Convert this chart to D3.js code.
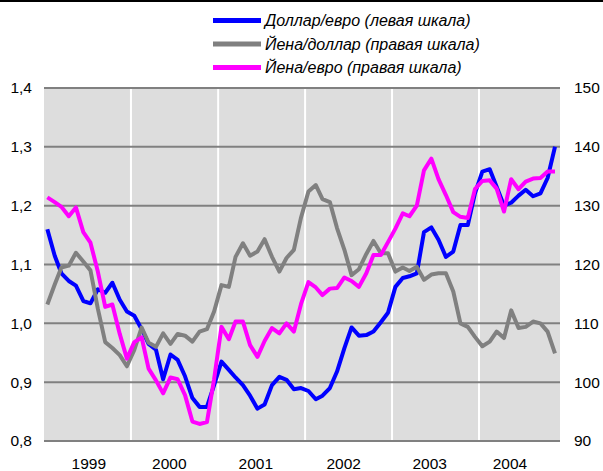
<!DOCTYPE html>
<html>
<head>
<meta charset="utf-8">
<script src="https://cdn.jsdelivr.net/npm/d3@7"></script>
<style>
  body { margin: 0; background: #fff; }
  text { font-family: "Liberation Sans", Arial, sans-serif; fill: #000; }
</style>
</head>
<body>
<svg width="603" height="471"></svg>
<script>
// monthly data, Jan 1999 .. Nov 2004
const startMonth = "1999-01";
const nMonths = 71;

// Доллар/евро, left scale
const usdEur = [1.160, 1.115, 1.085, 1.072, 1.064, 1.038, 1.034, 1.058, 1.052, 1.069, 1.040, 1.020,
  1.013, 0.990, 0.965, 0.955, 0.905, 0.947, 0.938, 0.910, 0.873, 0.858, 0.858, 0.895,
  0.935, 0.921, 0.908, 0.895, 0.877, 0.855, 0.862, 0.895, 0.909, 0.904, 0.888, 0.890,
  0.885, 0.871, 0.877, 0.890, 0.918, 0.958, 0.993, 0.979, 0.980, 0.986, 1.002, 1.018,
  1.062, 1.077, 1.080, 1.085, 1.155, 1.163, 1.142, 1.113, 1.122, 1.167, 1.167, 1.221,
  1.258, 1.262, 1.232, 1.200, 1.205, 1.217, 1.227, 1.216, 1.221, 1.247, 1.300];

// Йена/доллар, right scale
const jpyUsd = [113.2, 116.6, 119.5, 119.8, 122.0, 120.5, 119.0, 112.5, 106.8, 105.8, 104.6, 102.7,
  105.5, 109.3, 106.7, 106.0, 108.3, 106.5, 108.2, 107.9, 106.9, 108.6, 109.0, 112.0,
  116.5, 116.2, 121.3, 123.6, 121.5, 122.2, 124.3, 121.3, 118.8, 121.1, 122.5, 128.0,
  132.4, 133.5, 131.1, 130.6, 126.2, 122.5, 118.2, 119.2, 121.8, 124.0, 121.9, 121.9,
  118.8, 119.5, 118.9, 119.6, 117.4, 118.3, 118.5, 118.5, 115.4, 110.0, 109.4, 107.7,
  106.1, 106.9, 108.6, 107.5, 112.2, 109.2, 109.4, 110.3, 110.0, 108.6, 104.9];

// Йена/евро, right scale
const jpyEur = [131.4, 130.6, 129.8, 128.2, 129.7, 125.5, 123.7, 118.8, 112.8, 113.2, 108.2, 104.0,
  106.8, 107.6, 102.3, 100.3, 98.1, 100.8, 100.5, 97.8, 93.3, 92.9, 93.2, 100.5,
  109.4, 107.3, 110.3, 110.3, 106.3, 104.3, 107.0, 109.2, 108.3, 110.0, 108.6, 113.3,
  117.0, 116.1, 114.8, 115.9, 116.0, 117.8, 117.2, 116.2, 118.5, 121.6, 121.6, 123.8,
  126.1, 128.7, 128.2, 130.0, 136.0, 138.0, 134.5, 131.8, 128.9, 128.1, 127.9, 132.8,
  134.2, 134.3, 132.9, 129.0, 134.5, 132.8, 134.1, 134.6, 134.7, 135.8, 135.8];

const leftTicks = [0.8, 0.9, 1.0, 1.1, 1.2, 1.3, 1.4];
const rightTicks = [90, 100, 110, 120, 130, 140, 150];
const yearSeps = ["2000-01-01", "2001-01-01", "2002-01-01", "2003-01-01", "2004-01-01"];
const yearLabels = ["1999", "2000", "2001", "2002", "2003", "2004"];
const yearLabelAt = ["1999-07-08", "2000-06-10", "2001-06-08", "2002-06-12", "2003-06-08", "2004-05-10"];

const legendNames = ["Доллар/евро (левая шкала)", "Йена/доллар (правая шкала)", "Йена/евро (правая шкала)"];
const colors = ["#0000ff", "#808080", "#ff00ff"];

const parse = d3.timeParse("%Y-%m-%d");
const months = d3.timeMonth.range(d3.timeParse("%Y-%m")(startMonth), d3.timeMonth.offset(d3.timeParse("%Y-%m")(startMonth), nMonths))
  .map(d => d3.timeDay.offset(d, 14));

const margin = {top: 88, right: 43, bottom: 30, left: 44};
const W = 603, H = 471;
const svg = d3.select("svg");

const x = d3.scaleTime()
  .domain([parse("1999-01-01"), parse("2004-12-06")])
  .range([margin.left, W - margin.right]);
const yL = d3.scaleLinear().domain([0.8, 1.4]).range([441, 88]);
const yR = d3.scaleLinear().domain([90, 150]).range([441, 88]);

// top border line
svg.append("rect").attr("x", 0).attr("y", 0).attr("width", W).attr("height", 2).attr("fill", "#000");

// plot background
svg.append("rect")
  .attr("x", x.range()[0]).attr("y", yL(1.4))
  .attr("width", x.range()[1] - x.range()[0]).attr("height", yL(0.8) - yL(1.4))
  .attr("fill", "#dddddd");

// year separators
svg.append("g").selectAll("line").data(yearSeps).join("line")
  .attr("x1", d => x(parse(d))).attr("x2", d => x(parse(d)))
  .attr("y1", yL(1.4)).attr("y2", yL(0.8))
  .attr("stroke", "#fff").attr("stroke-width", 2);

// horizontal grid
svg.append("g").selectAll("line").data(leftTicks).join("line")
  .attr("x1", x.range()[0]).attr("x2", x.range()[1])
  .attr("y1", d => yL(d)).attr("y2", d => yL(d))
  .attr("stroke", "#808080").attr("stroke-width", 2);

const fmt = d3.format(".1f");
svg.append("g").selectAll("text").data(leftTicks).join("text")
  .attr("x", 32).attr("y", d => yL(d)).attr("dy", "0.35em")
  .attr("text-anchor", "end").style("font-size", "15.5px")
  .text(d => fmt(d).replace(".", ","));

svg.append("g").selectAll("text").data(rightTicks).join("text")
  .attr("x", 574).attr("y", d => yR(d)).attr("dy", "0.35em")
  .attr("text-anchor", "start").style("font-size", "15.5px")
  .text(d => d);

svg.append("g").selectAll("text").data(yearLabels).join("text")
  .attr("x", (d, i) => x(parse(yearLabelAt[i]))).attr("y", 469)
  .attr("text-anchor", "middle").style("font-size", "15.5px")
  .text(d => d);

// series
const lineL = d3.line().x((d, i) => x(months[i])).y(d => yL(d));
const lineR = d3.line().x((d, i) => x(months[i])).y(d => yR(d));

const series = [
  {vals: usdEur, line: lineL, color: colors[0]},
  {vals: jpyUsd, line: lineR, color: colors[1]},
  {vals: jpyEur, line: lineR, color: colors[2]}
];
svg.append("g").selectAll("path").data(series).join("path")
  .attr("d", d => d.line(d.vals))
  .attr("fill", "none")
  .attr("stroke", d => d.color)
  .attr("stroke-width", 4)
  .attr("stroke-linejoin", "round");

// legend
const legend = svg.append("g").selectAll("g").data(legendNames).join("g")
  .attr("transform", (d, i) => `translate(213, ${20.5 + i * 23.5})`);
legend.append("line")
  .attr("x1", 0).attr("x2", 48).attr("y1", 0).attr("y2", 0)
  .attr("stroke", (d, i) => colors[i]).attr("stroke-width", 5);
legend.append("text")
  .attr("x", 52).attr("y", 0).attr("dy", "0.35em")
  .style("font-size", "16px").style("font-style", "italic")
  .text(d => d);
</script>
</body>
</html>
